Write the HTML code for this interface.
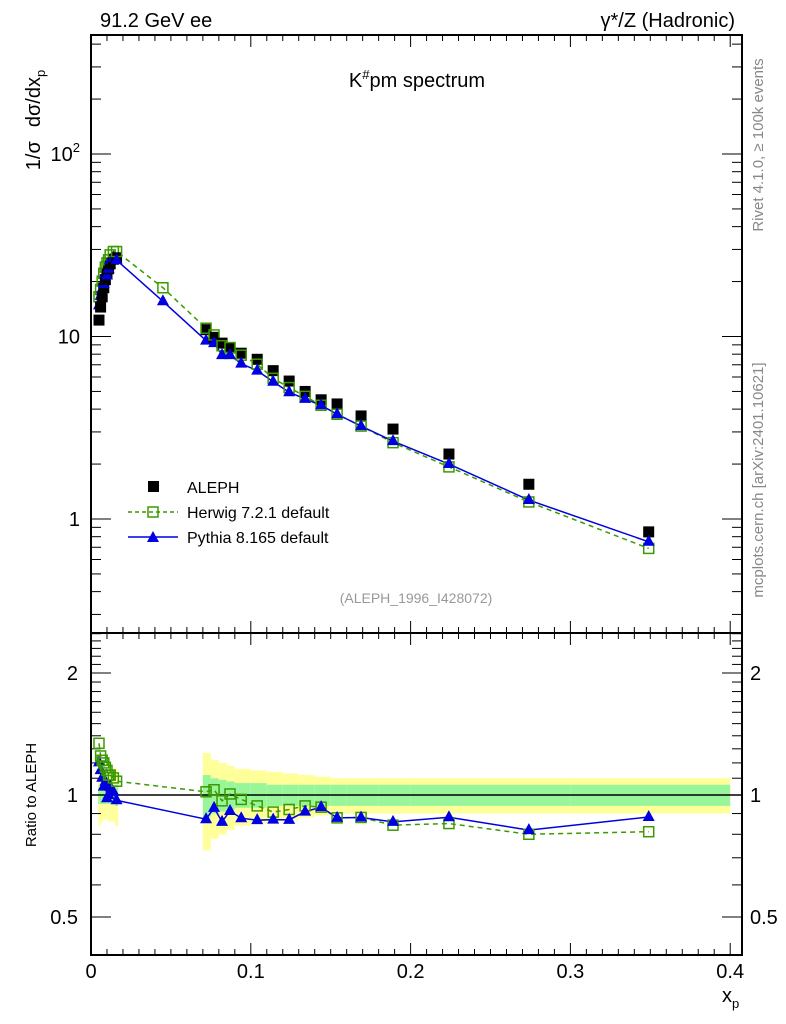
<!DOCTYPE html>
<html><head><meta charset="utf-8"><style>
body{margin:0;background:#fff;}
svg{display:block;font-family:"Liberation Sans",sans-serif;}
</style></head><body>
<svg id="c" width="786" height="1024" xmlns="http://www.w3.org/2000/svg">
<g id="bands"></g>
<g id="axes"></g>
<g id="series"></g>
<text x="100" y="27" font-size="20">91.2 GeV ee</text>
<text x="735" y="27" font-size="20" text-anchor="end">γ*/Z (Hadronic)</text>
<text x="417" y="87" font-size="20" text-anchor="middle">K<tspan font-size="13" dy="-8">#</tspan><tspan dy="8">pm spectrum</tspan></text>
<text transform="translate(40,120) rotate(-90)" font-size="20" text-anchor="middle">1/σ<tspan dx="14">dσ/dx</tspan><tspan font-size="13" dy="5">p</tspan></text>
<text transform="translate(36,795) rotate(-90)" font-size="15" text-anchor="middle">Ratio to ALEPH</text>
<text x="722" y="1002" font-size="20">x<tspan font-size="13" dy="6">p</tspan></text>
<text transform="translate(763,145) rotate(-90)" font-size="15" fill="#888" text-anchor="middle">Rivet 4.1.0, ≥ 100k events</text>
<text transform="translate(763,480) rotate(-90)" font-size="15" fill="#888" text-anchor="middle">mcplots.cern.ch [arXiv:2401.10621]</text>
<text x="416" y="603" font-size="14" fill="#999" text-anchor="middle">(ALEPH_1996_I428072)</text>
<g>
<rect x="148" y="481" width="11" height="11" fill="#000"/>
<text x="187" y="493" font-size="16">ALEPH</text>
<line x1="128" y1="512" x2="178" y2="512" stroke="#3a9a00" stroke-width="1.5" stroke-dasharray="4,3"/>
<rect x="148" y="507" width="10" height="10" fill="none" stroke="#3a9a00" stroke-width="1.5"/>
<text x="187" y="518" font-size="16">Herwig 7.2.1 default</text>
<line x1="128" y1="537" x2="178" y2="537" stroke="#0000e0" stroke-width="1.5"/>
<polygon points="153,531 159,542 147,542" fill="#0000e0"/>
<text x="187" y="543" font-size="16">Pythia 8.165 default</text>
</g>
</svg>
<script>
const xVals=[0.005,0.006,0.007,0.008,0.009,0.010,0.011,0.012,0.014,0.016,0.045,0.072,0.077,0.082,0.087,0.094,0.104,0.114,0.124,0.134,0.144,0.154,0.169,0.189,0.224,0.274,0.349];
const alephVals=[12.3,14.5,16.5,18.5,20.5,22,23.5,25,26.5,27,null,10.9,9.9,9.2,8.65,8.1,7.5,6.5,5.7,5.0,4.5,4.27,3.67,3.11,2.27,1.55,0.85];
const herwigVals=[16.5,18.1,20.1,22.2,24,25.3,26.3,28,29.2,29.2,18.5,11.1,10.2,8.9,8.7,7.9,7.05,5.9,5.25,4.7,4.2,3.75,3.23,2.62,1.93,1.24,0.69];
const pythiaVals=[14.8,16.7,18.2,19.4,22.1,21.6,23.5,26.2,27,26.2,15.6,9.5,9.2,7.9,7.9,7.1,6.5,5.65,4.95,4.55,4.2,3.75,3.23,2.67,2.0,1.27,0.75];
const totErr=[0.16,0.15,0.14,0.13,0.13,0.13,0.14,0.14,0.14,0.16,null,0.27,0.22,0.2,0.18,0.16,0.15,0.14,0.13,0.12,0.11,0.1,0.1,0.1,0.1,0.1,0.1];
const statErr=[0.05,0.05,0.05,0.05,0.05,0.05,0.05,0.05,0.05,0.06,null,0.12,0.1,0.09,0.08,0.07,0.07,0.06,0.06,0.06,0.06,0.06,0.06,0.06,0.06,0.06,0.06];
const binEdges=[0.0045,0.0055,0.0065,0.0075,0.0085,0.0095,0.0105,0.0115,0.013,0.015,0.017,null,0.07,0.075,0.08,0.085,0.09,0.1,0.11,0.12,0.13,0.14,0.15,0.16,0.18,0.2,0.25,0.3,0.4];
const xTicks=[0,0.1,0.2,0.3,0.4];
const yTicks=[{v:100,l:"10²"},{v:10,l:"10"},{v:1,l:"1"}];
const rTicks=[{v:2,l:"2"},{v:1,l:"1"},{v:0.5,l:"0.5"}];

const L=91,R=742,T=35,M=633,B=955;
const X=v=>91+v*1598;
const Y=v=>519-Math.log10(v)*182.5;
const RY=v=>795-Math.log2(v)*122;
const NS="http://www.w3.org/2000/svg";
function mk(tag,attrs,parent){const e=document.createElementNS(NS,tag);for(const k in attrs)e.setAttribute(k,attrs[k]);parent.appendChild(e);return e;}
const ax=document.getElementById('axes'),sr=document.getElementById('series'),bd=document.getElementById('bands');

for(let i=0;i<xVals.length;i++){
  if(alephVals[i]===null){continue;}
  let lo,hi;
  if(i<10){lo=binEdges[i];hi=binEdges[i+1];}else{lo=binEdges[i+1];hi=binEdges[i+2];}
  const y1=mk('rect',{x:X(lo),width:X(hi)-X(lo),y:RY(1+totErr[i]),height:RY(1-totErr[i])-RY(1+totErr[i]),fill:'#ffff99'},bd);
  
  
  const g1=mk('rect',{x:X(lo),width:X(hi)-X(lo),y:RY(1+statErr[i]),height:RY(1-statErr[i])-RY(1+statErr[i]),fill:'#99f599'},bd);
  
  
}

mk('rect',{x:L,y:T,width:R-L,height:M-T,fill:'none',stroke:'#000','stroke-width':2},ax);
mk('rect',{x:L,y:M,width:R-L,height:B-M,fill:'none',stroke:'#000','stroke-width':2},ax);
mk('line',{x1:L,x2:R,y1:RY(1),y2:RY(1),stroke:'#000','stroke-width':1.5},ax);
for(let k=0;k<=40;k++){
  const x=X(k/100);const len=k%10==0?12:6;
  [[T,1],[M,-1],[M,1],[B,-1]].forEach(([y,d])=>mk('line',{x1:x,x2:x,y1:y,y2:y+d*len,stroke:'#000','stroke-width':1},ax));
}
xTicks.forEach(v=>{const t=mk('text',{x:X(v),y:978,'font-size':20,'text-anchor':'middle'},ax);t.textContent=String(v);

});
for(let e=-1;e<=2;e++)for(let m=1;m<10;m++){
  const v=m*Math.pow(10,e);const y=Y(v);if(y<T||y>M)continue;const len=m==1?20:10;
  mk('line',{x1:L,x2:L+len,y1:y,y2:y,stroke:'#000'},ax);mk('line',{x1:R,x2:R-len,y1:y,y2:y,stroke:'#000'},ax);
}
yTicks.forEach(t=>{const e=mk('text',{x:80,y:Y(t.v)+7,'font-size':20,'text-anchor':'end'},ax);
if(t.v===100){e.innerHTML='10<tspan font-size="13" dy="-9">2</tspan>';}else e.textContent=t.l;

});
for(let v=0.4;v<=2.51;v+=0.1){const y=RY(v);if(y<M||y>B)continue;const major=[0.5,1,2].some(q=>Math.abs(q-v)<1e-6);const len=major?20:10;
  mk('line',{x1:L,x2:L+len,y1:y,y2:y,stroke:'#000'},ax);mk('line',{x1:R,x2:R-len,y1:y,y2:y,stroke:'#000'},ax);}
rTicks.forEach(t=>{const a=mk('text',{x:78,y:RY(t.v)+7,'font-size':20,'text-anchor':'end'},ax);a.textContent=t.l;


const b=mk('text',{x:750,y:RY(t.v)+7,'font-size':20},ax);b.textContent=t.l;

});

function line(vals,f,color,dash,name){
  const pts=[];xVals.forEach((x,i)=>{const v=f(i);if(v!==null)pts.push(X(x)+','+v);});
  const p=mk('polyline',{points:pts.join(' '),fill:'none',stroke:color,'stroke-width':1.5},sr);
  if(dash)p.setAttribute('stroke-dasharray','5,4');
  
  
}
function sq(x,y,name){const r=mk('rect',{x:x-5,y:y-5,width:10,height:10,fill:'none',stroke:'#3a9a00','stroke-width':1.5},sr);

}
function tri(x,y,name){const p=mk('polygon',{points:`${x},${y-7} ${x+6},${y+4} ${x-6},${y+4}`,fill:'#0000e0'},sr);

}

line(herwigVals,i=>Y(herwigVals[i]),'#3a9a00',true,'herwig-line');
line(pythiaVals,i=>Y(pythiaVals[i]),'#0000e0',false,'pythia-line');
line(herwigVals,i=>alephVals[i]===null?null:RY(herwigVals[i]/alephVals[i]),'#3a9a00',true,'herwig-ratio-line');
line(pythiaVals,i=>alephVals[i]===null?null:RY(pythiaVals[i]/alephVals[i]),'#0000e0',false,'pythia-ratio-line');
xVals.forEach((x,i)=>{
  if(alephVals[i]!==null){const r=mk('rect',{x:X(x)-5.5,y:Y(alephVals[i])-5.5,width:11,height:11,fill:'#000'},sr);
    
    }
  sq(X(x),Y(herwigVals[i]),'herwig-point');
  tri(X(x),Y(pythiaVals[i]),'pythia-point');
  if(alephVals[i]!==null){
    sq(X(x),RY(herwigVals[i]/alephVals[i]),'herwig-ratio-point');
    tri(X(x),RY(pythiaVals[i]/alephVals[i]),'pythia-ratio-point');
  }
});
</script>
</body></html>
